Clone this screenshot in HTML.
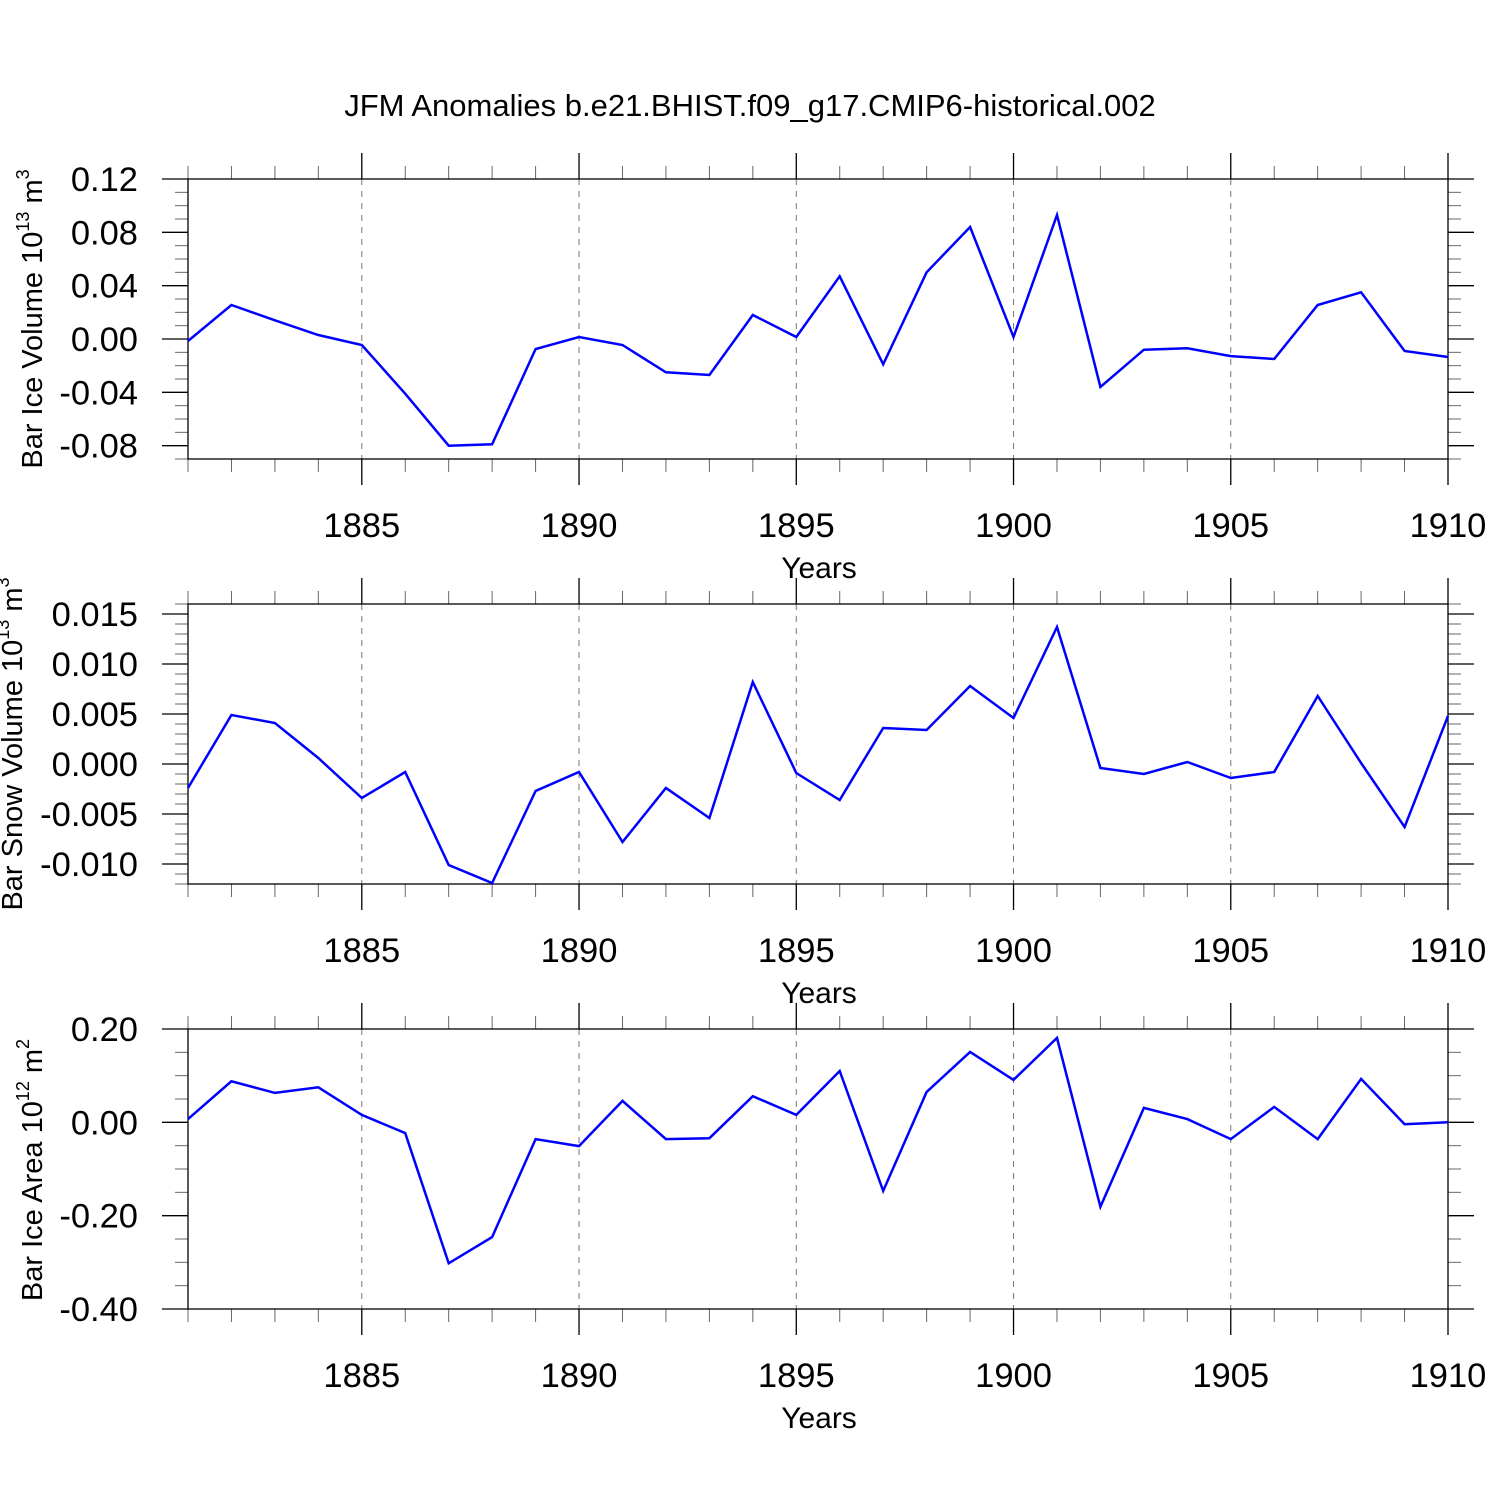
<!DOCTYPE html>
<html><head><meta charset="utf-8"><style>
html,body{margin:0;padding:0;background:#fff}
svg{display:block;font-family:"Liberation Sans",sans-serif}
</style></head><body>
<svg id="chart" width="1500" height="1500" viewBox="0 0 1500 1500" xmlns="http://www.w3.org/2000/svg">
<text x="750" y="116" font-size="31" text-anchor="middle">JFM Anomalies b.e21.BHIST.f09_g17.CMIP6-historical.002</text>
</svg>
<script>
const years = [];
for (let y = 1881; y <= 1910; y++) years.push(y);
const iceVolume = [-0.0015,0.0255,0.014,0.003,-0.0045,-0.041,-0.080,-0.079,-0.0075,0.0015,-0.0045,-0.025,-0.027,0.018,0.0015,0.047,-0.019,0.050,0.084,0.0015,0.093,-0.036,-0.008,-0.007,-0.0128,-0.015,0.0255,0.035,-0.009,-0.0135];
const snowVolume = [-0.0024,0.0049,0.0041,0.0006,-0.0034,-0.0008,-0.0101,-0.0119,-0.0027,-0.0008,-0.0078,-0.0024,-0.0054,0.0082,-0.0009,-0.0036,0.0036,0.0034,0.0078,0.0046,0.0137,-0.0004,-0.0010,0.0002,-0.0014,-0.0008,0.0068,0.0001,-0.0063,0.0048];
const iceArea = [0.007,0.088,0.063,0.075,0.016,-0.023,-0.302,-0.246,-0.036,-0.051,0.046,-0.036,-0.034,0.056,0.016,0.110,-0.147,0.065,0.151,0.091,0.181,-0.181,0.031,0.007,-0.036,0.033,-0.036,0.093,-0.004,0.000];
const xTickYears = [1885,1890,1895,1900,1905,1910];
const iceVolTicks = ["0.12","0.08","0.04","0.00","-0.04","-0.08"];
const snowVolTicks = ["0.015","0.010","0.005","0.000","-0.005","-0.010"];
const iceAreaTicks = ["0.20","0.00","-0.20","-0.40"];

const NS = "http://www.w3.org/2000/svg";
const svg = document.getElementById('chart');
function mk(tag, attrs, parent){const e=document.createElementNS(NS,tag);for(const k in attrs)e.setAttribute(k,attrs[k]);(parent||svg).appendChild(e);return e;}

const X0=188, X1=1448, YR0=1881, YR1=1910;
const xs = v => X0 + (v-YR0)/(YR1-YR0)*(X1-X0);

const panels = [
 {name:'ice-volume', top:179, bot:459, ymin:-0.09, ymax:0.12, major:0.04, minor:0.01, majorStart:-0.08, ticks:iceVolTicks, data:iceVolume, title:'Bar Ice Volume 10', sup:'13', unit:' m', usup:'3', tcy:319, tx:42},
 {name:'snow-volume', top:604, bot:884, ymin:-0.012, ymax:0.016, major:0.005, minor:0.001, majorStart:-0.010, ticks:snowVolTicks, data:snowVolume, title:'Bar Snow Volume 10', sup:'13', unit:' m', usup:'3', tcy:744, tx:22},
 {name:'ice-area', top:1029, bot:1309, ymin:-0.40, ymax:0.20, major:0.2, minor:0.05, majorStart:-0.40, ticks:iceAreaTicks, data:iceArea, title:'Bar Ice Area 10', sup:'12', unit:' m', usup:'2', tcy:1170, tx:42}
];

panels.forEach(p=>{
  const g = mk('g',{});
  
  
  const ys = v => p.bot - (v-p.ymin)/(p.ymax-p.ymin)*(p.bot-p.top);
  xTickYears.forEach(yr=>{ if(yr<YR1){ const l=mk('line',{x1:xs(yr),x2:xs(yr),y1:p.top,y2:p.bot,stroke:'#777','stroke-width':1,'stroke-dasharray':'6,6'},g);
      }});
  for(let yr=YR0; yr<=YR1; yr++){
    const maj = yr%5===0, len = maj?26:13, x=xs(yr);
    mk('line',{x1:x,x2:x,y1:p.top,y2:p.top-len,stroke:maj?'#000':'#666','stroke-width':maj?1.3:1},g);
    mk('line',{x1:x,x2:x,y1:p.bot,y2:p.bot+len,stroke:maj?'#000':'#666','stroke-width':maj?1.3:1},g);
  }
  const n = Math.round((p.ymax-p.ymin)/p.minor);
  for(let i=0;i<=n;i++){
    const v = p.ymin + i*p.minor;
    const r = (v - p.majorStart)/p.major;
    const maj = Math.abs(r-Math.round(r))<1e-6;
    const len = maj?26:13, y=ys(v);
    mk('line',{x1:X0,x2:X0-len,y1:y,y2:y,stroke:maj?'#000':'#666','stroke-width':maj?1.3:1},g);
    mk('line',{x1:X1,x2:X1+len,y1:y,y2:y,stroke:maj?'#000':'#666','stroke-width':maj?1.3:1},g);
  }
  p.ticks.forEach(t=>{
    const tx = mk('text',{x:138,y:ys(parseFloat(t))+12,'font-size':34.5,'text-anchor':'end'},g);
    tx.textContent=t;
     
  });
  xTickYears.forEach(yr=>{
    const tx = mk('text',{x:xs(yr),y:p.bot+78,'font-size':34.5,'text-anchor':'middle'},g);
    tx.textContent=yr;
     
  });
  const xt = mk('text',{x:819,y:p.bot+119,'font-size':30,'text-anchor':'middle'},g);
  xt.textContent='Years';
   
  const yt = mk('text',{x:0,y:0,'font-size':29,'text-anchor':'middle',transform:`translate(${p.tx},${p.tcy}) rotate(-90)`},g);
   
  const s1=mk('tspan',{},yt); s1.textContent=p.title;
  const s2=mk('tspan',{'font-size':18,dy:-13},yt); s2.textContent=p.sup;
  const s3=mk('tspan',{dy:13},yt); s3.textContent=p.unit;
  const s4=mk('tspan',{'font-size':18,dy:-13},yt); s4.textContent=p.usup;
  const fr = mk('rect',{x:X0,y:p.top,width:X1-X0,height:p.bot-p.top,fill:'none',stroke:'#000','stroke-width':1.3},g);
   
  const pts = p.data.map((v,i)=>xs(years[i]).toFixed(1)+','+ys(v).toFixed(1)).join(' ');
  const pl = mk('polyline',{points:pts,fill:'none',stroke:'#0000ff','stroke-width':2.5,'stroke-linejoin':'miter'},g);
   
});
</script>
</body></html>
